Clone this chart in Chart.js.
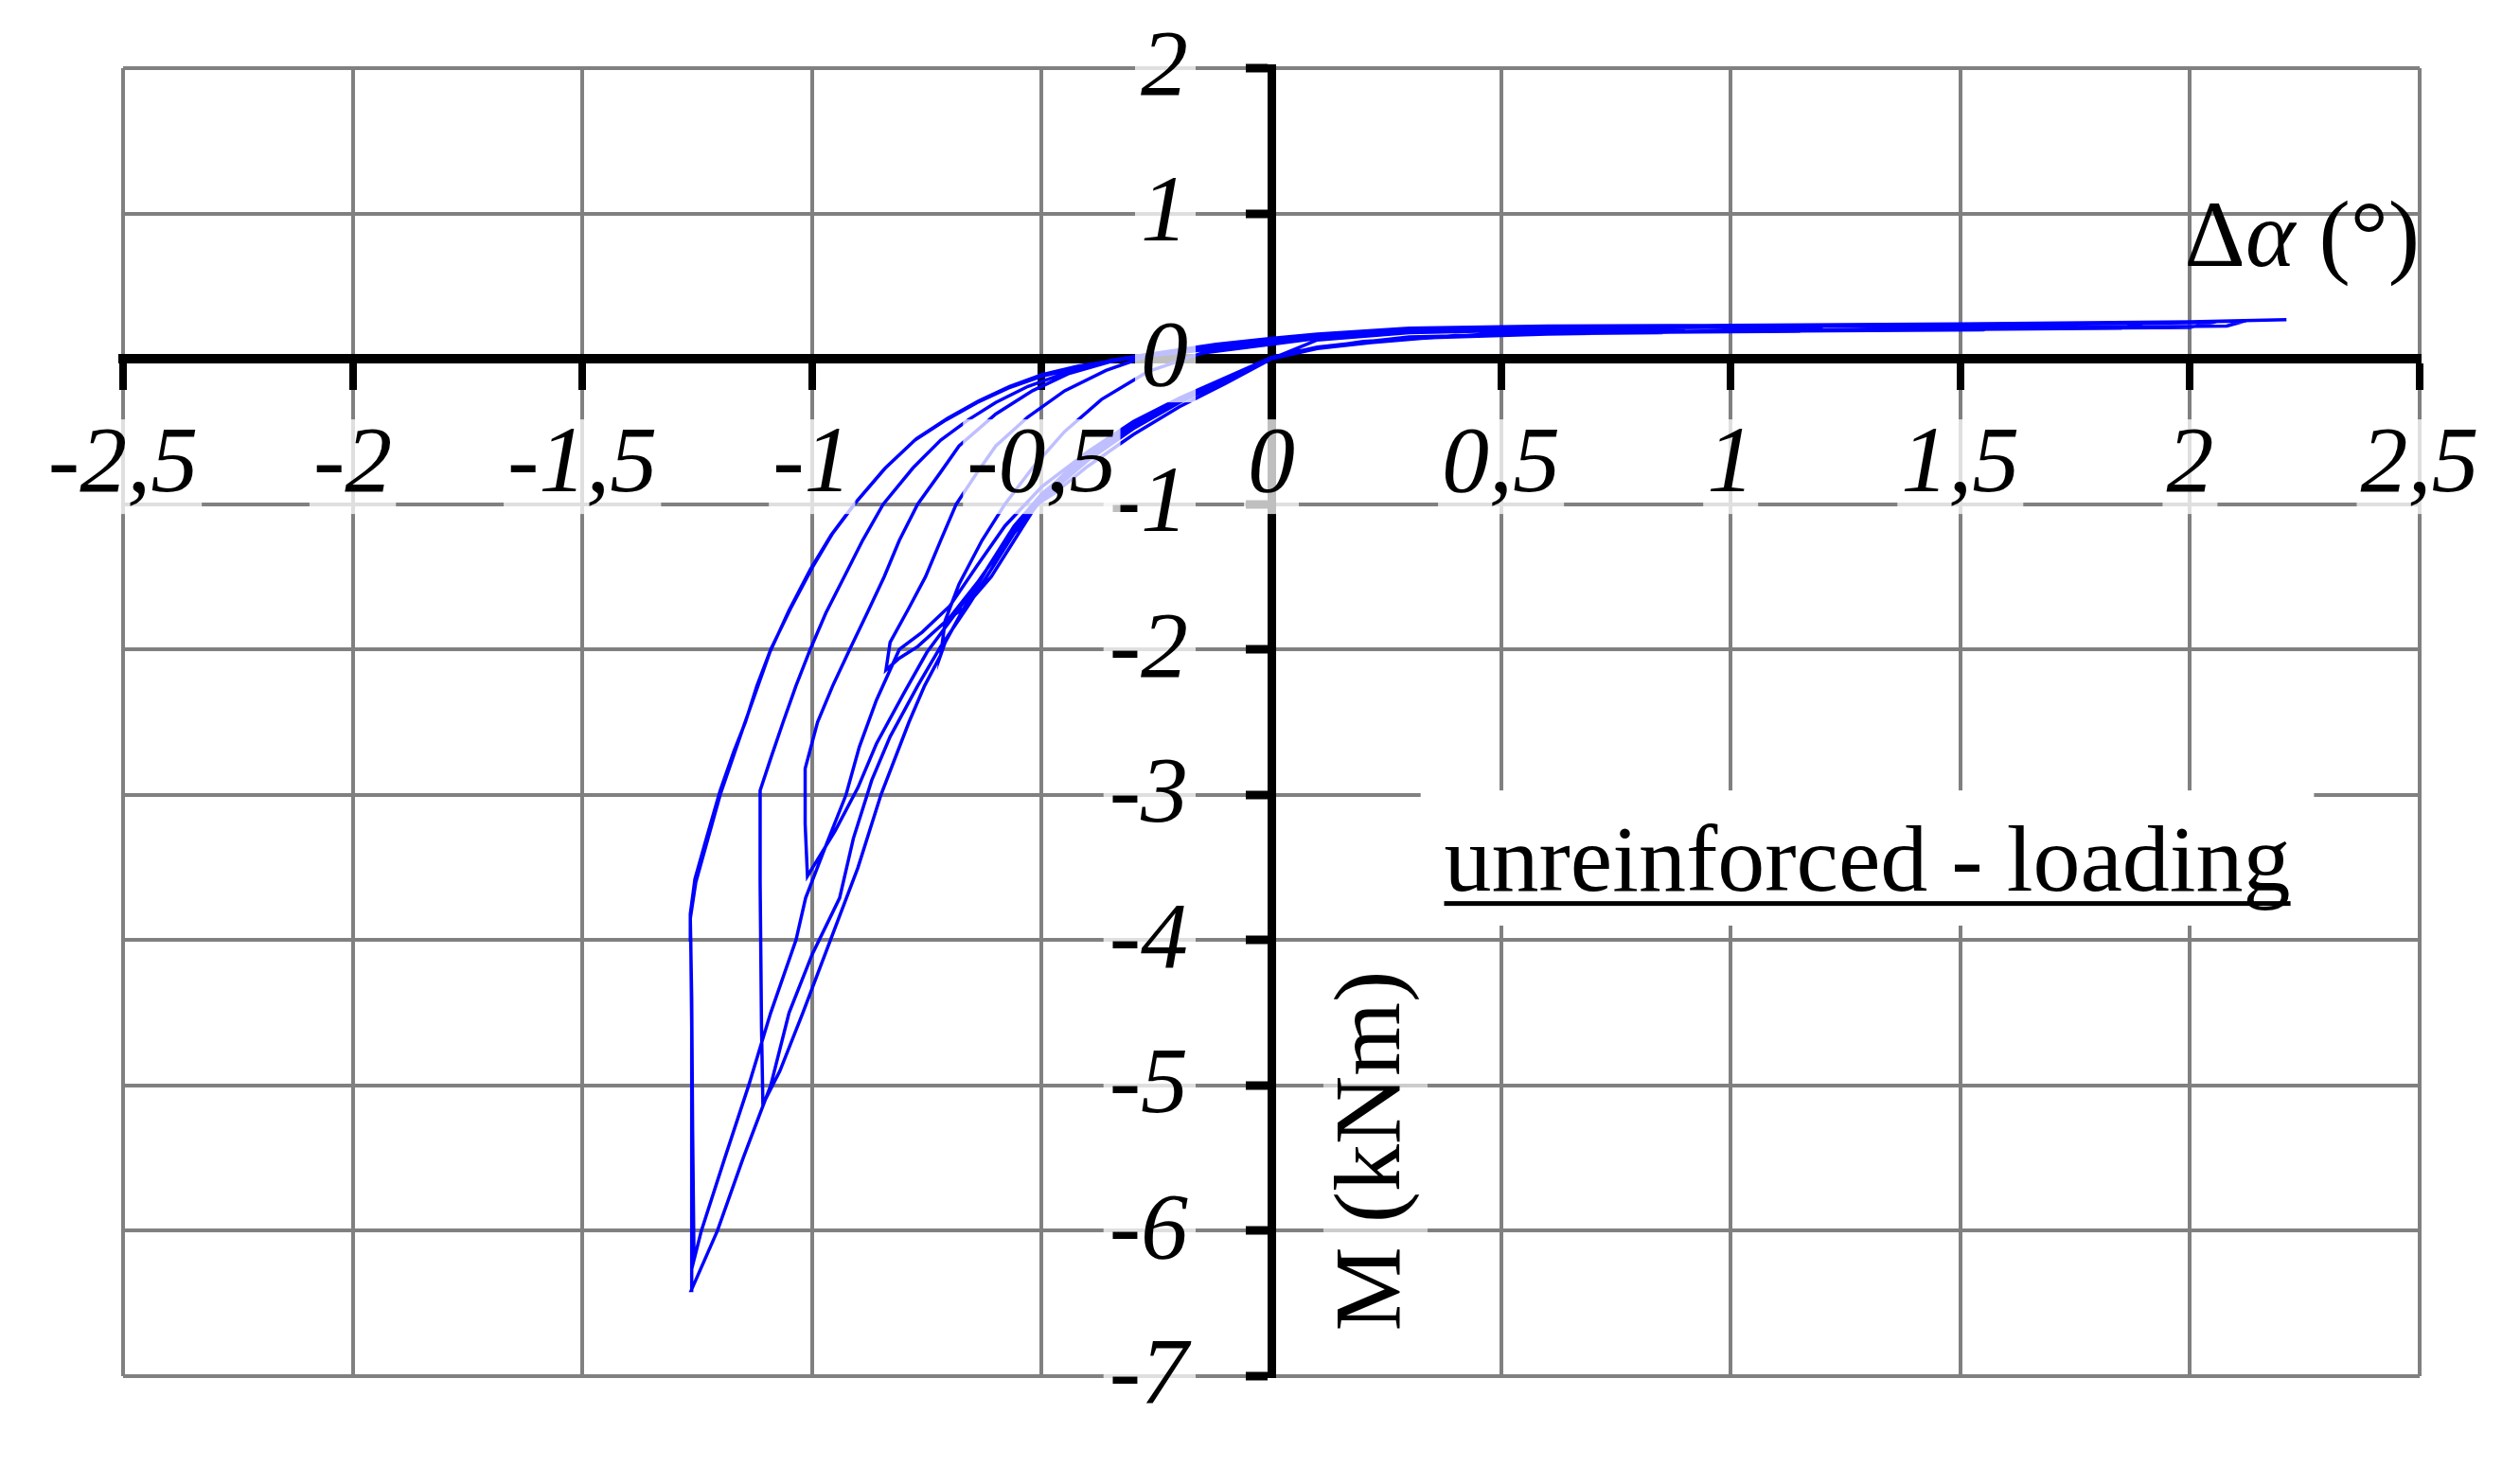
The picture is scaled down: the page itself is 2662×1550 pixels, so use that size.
<!DOCTYPE html>
<html>
<head>
<meta charset="utf-8">
<script src="https://cdn.jsdelivr.net/npm/chart.js@4.4.1/dist/chart.umd.min.js"></script>
<style>
  html, body { margin: 0; padding: 0; background: #ffffff; }
  #wrap { width: 2662px; height: 1550px; }
</style>
</head>
<body>
<div id="wrap"><canvas id="c" width="2662" height="1550"></canvas></div>
<script>
// ---- axis ticks ----
const xTickStep = 0.5;
const yTickStep = 1;
const xRange = [-2.5, 2.5];
const yRange = [-7, 2];

// ---- texts ----
const xTitleParts = [["Δ", "normal"], ["α", "italic"], [" (°)", "normal"]];
const yTitle = "M (kNm)";
const boxLabel = "unreinforced - loading";

// ---- cycle 1 (peak about -0.72 / -2.04) ----
const cycle1Rot = [0, 0.1, 0.3, 0.6, 0.9, 0.85, 0.5, 0.25, 0.1, 0,
  -0.1, -0.2, -0.3, -0.4, -0.48, -0.55, -0.62, -0.67, -0.71, -0.72,
  -0.71, -0.68, -0.63, -0.58, -0.52, -0.45, -0.37, -0.27, -0.15, 0];
const cycle1M = [0, 0.13, 0.18, 0.2, 0.21, 0.18, 0.17, 0.13, 0.07, 0.01,
  -0.13, -0.27, -0.43, -0.64, -0.88, -1.15, -1.45, -1.72, -1.95, -2.04,
  -1.8, -1.55, -1.25, -1.0, -0.75, -0.5, -0.28, -0.09, 0.04, 0.1];

// ---- cycle 2 (peak about -0.84 / -2.14) ----
const cycle2Rot = [0.1, 0.3, 0.7, 1.2, 1.15, 0.7, 0.3, 0.1, 0,
  -0.1, -0.2, -0.3, -0.4, -0.5, -0.57, -0.63, -0.7, -0.77, -0.81, -0.839,
  -0.83, -0.79, -0.753, -0.72, -0.686, -0.64, -0.6, -0.53, -0.45, -0.36, -0.27, -0.12, 0];
const cycle2M = [0.14, 0.19, 0.21, 0.22, 0.19, 0.18, 0.14, 0.07, 0.0,
  -0.15, -0.3, -0.47, -0.68, -0.95, -1.2, -1.5, -1.78, -1.98, -2.06, -2.14,
  -1.95, -1.72, -1.5, -1.25, -1.0, -0.78, -0.6, -0.4, -0.22, -0.08, 0.02, 0.08, 0.12];

// ---- cycle 3 (peak about -1.01 / -3.56) ----
const cycle3Rot = [0.1, 0.3, 0.8, 1.6, 1.55, 0.8, 0.3, 0.1, 0,
  -0.1, -0.2, -0.3, -0.4, -0.5, -0.56, -0.62, -0.68, -0.75, -0.8, -0.86, -0.9, -0.95, -1.01,
  -1.015, -1.015, -0.988, -0.955, -0.918, -0.88, -0.843, -0.81, -0.77, -0.72, -0.68, -0.6, -0.52, -0.44, -0.35, -0.27, -0.12, 0];
const cycle3M = [0.15, 0.2, 0.22, 0.235, 0.2, 0.185, 0.15, 0.08, 0.01,
  -0.14, -0.28, -0.45, -0.66, -0.93, -1.15, -1.45, -1.72, -2.02, -2.3, -2.65, -2.95, -3.25, -3.56,
  -3.2, -2.82, -2.5, -2.25, -2.0, -1.75, -1.5, -1.25, -1.0, -0.78, -0.6, -0.38, -0.22, -0.1, -0.02, 0.03, 0.09, 0.12];

// ---- cycle 4 (peak about -1.107 / -5.13) ----
const cycle4Rot = [0.1, 0.3, 0.8, 1.5, 1.9, 1.85, 1.0, 0.4, 0.1, 0,
  -0.1, -0.2, -0.3, -0.4, -0.47, -0.51, -0.56, -0.61, -0.67, -0.71, -0.72, -0.755, -0.789, -0.85, -0.9, -0.96, -1.02, -1.07, -1.107,
  -1.11, -1.113, -1.113, -1.09, -1.063, -1.035, -1.004, -0.97, -0.93, -0.89, -0.845, -0.78, -0.72, -0.66, -0.6, -0.53, -0.45, -0.35, -0.27, -0.12, 0];
const cycle4M = [0.15, 0.2, 0.22, 0.23, 0.245, 0.21, 0.19, 0.16, 0.08, 0.0,
  -0.17, -0.33, -0.52, -0.74, -0.92, -1.0, -1.25, -1.5, -1.72, -1.8, -2.04, -2.25, -2.5, -3.0, -3.5, -4.0, -4.5, -4.9, -5.13,
  -4.6, -3.6, -2.97, -2.75, -2.5, -2.25, -2.0, -1.75, -1.5, -1.25, -1.0, -0.75, -0.56, -0.42, -0.3, -0.19, -0.1, -0.01, 0.03, 0.09, 0.13];

// ---- cycle 5 (peak about -1.263 / -6.41) ----
const cycle5Rot = [0.1, 0.3, 1.0, 1.6, 2.05, 2.0, 1.2, 0.5, 0.2, 0.05, 0,
  -0.1, -0.2, -0.3, -0.4, -0.5, -0.56, -0.61, -0.66, -0.72, -0.77, -0.83, -0.87, -0.91, -0.94, -1.0, -1.05, -1.09, -1.15, -1.206, -1.263,
  -1.262, -1.262, -1.264, -1.265, -1.255, -1.23, -1.2, -1.17, -1.145, -1.12, -1.09, -1.047, -1.0, -0.955, -0.905, -0.84, -0.773, -0.705, -0.637, -0.57, -0.5, -0.42, -0.34, -0.27, -0.18, -0.1, 0];
const cycle5M = [0.16, 0.205, 0.225, 0.235, 0.25, 0.215, 0.2, 0.17, 0.12, 0.05, 0.0,
  -0.15, -0.3, -0.48, -0.7, -0.97, -1.2, -1.45, -1.7, -1.98, -2.25, -2.6, -2.9, -3.3, -3.71, -4.1, -4.5, -5.0, -5.5, -6.0, -6.41,
  -5.5, -4.6, -4.0, -3.82, -3.58, -3.3, -2.97, -2.7, -2.5, -2.25, -2.0, -1.72, -1.44, -1.2, -0.99, -0.75, -0.55, -0.41, -0.29, -0.19, -0.11, -0.05, -0.01, 0.02, 0.05, 0.08, 0.11];

// ---- cycle 6 (peak about -1.257 / -6.2) ----
const cycle6Rot = [0.1, 0.3, 1.0, 1.7, 2.12, 2.08, 1.3, 0.5, 0.2, 0.05, 0,
  -0.1, -0.2, -0.3, -0.4, -0.5, -0.58, -0.64, -0.7, -0.76, -0.81, -0.86, -0.897, -0.926, -0.97, -1.014, -1.035, -1.09, -1.138, -1.19, -1.241, -1.257,
  -1.26, -1.262, -1.265, -1.253, -1.2, -1.148, -1.092, -1.05, -1.004, -0.958, -0.908, -0.843, -0.776, -0.708, -0.64, -0.572, -0.5, -0.42, -0.27, -0.12, 0];
const cycle6M = [0.16, 0.21, 0.23, 0.24, 0.26, 0.225, 0.205, 0.175, 0.12, 0.05, 0.01,
  -0.13, -0.27, -0.44, -0.64, -0.88, -1.15, -1.42, -1.7, -1.88, -2.0, -2.35, -2.67, -3.0, -3.35, -3.71, -4.0, -4.5, -5.0, -5.5, -6.0, -6.2,
  -5.3, -4.4, -3.85, -3.6, -3.0, -2.52, -2.02, -1.73, -1.45, -1.21, -1.0, -0.76, -0.56, -0.42, -0.3, -0.2, -0.12, -0.06, 0.03, 0.1, 0.14];

// ---- final excursion to positive rotation ----
const finalRot = [0.1, 0.3, 0.6, 1.0, 1.5, 2.0, 2.21];
const finalM = [0.17, 0.21, 0.225, 0.23, 0.24, 0.255, 0.27];

const segments = [
  [cycle1Rot, cycle1M], [cycle2Rot, cycle2M], [cycle3Rot, cycle3M],
  [cycle4Rot, cycle4M], [cycle5Rot, cycle5M], [cycle6Rot, cycle6M],
  [finalRot, finalM]
];
const points = [];
segments.forEach(([r, m]) => r.forEach((v, i) => points.push({ x: v, y: m[i] })));

const tickFont = { family: 'Liberation Serif', style: 'italic', size: 100, lineHeight: 1 };
const gridColor = (ctx) => (ctx.tick && ctx.tick.value === 0) ? 'rgba(0,0,0,0)' : '#808080';
const fmt = (v) => String(Math.round(v * 10) / 10).replace('.', ',');

// y tick labels: drawn left of the axis, over the data, with a light backdrop
const yLabelPlugin = {
  id: 'yLabels',
  afterDatasetsDraw(chart) {
    const ctx = chart.ctx;
    const xs = chart.scales.x, ys = chart.scales.y;
    const right = xs.getPixelForValue(0) - 88;
    ctx.save();
    ctx.font = 'italic 100px "Liberation Serif"';
    ctx.textAlign = 'right';
    ctx.textBaseline = 'middle';
    ys.ticks.forEach((t) => {
      const label = fmt(t.value);
      const py = ys.getPixelForValue(t.value);
      const w = ctx.measureText(label).width;
      ctx.fillStyle = 'rgba(255,255,255,0.75)';
      ctx.fillRect(right - w - 6, py - 46, w + 14, 92);
      ctx.fillStyle = '#000';
      ctx.fillText(label, right, py + 2);
    });
    ctx.restore();
  }
};

const textPlugin = {
  id: 'textPlugin',
  afterDraw(chart) {
    const ctx = chart.ctx;
    const xs = chart.scales.x, ys = chart.scales.y;
    const area = chart.chartArea;
    ctx.save();
    ctx.fillStyle = '#000';
    ctx.textBaseline = 'alphabetic';

    // x axis title, right aligned at the chart's right edge
    const widths = xTitleParts.map(([t, st]) => {
      ctx.font = (st === 'italic' ? 'italic ' : '') + '100px "Liberation Serif"';
      return ctx.measureText(t).width;
    });
    const total = widths.reduce((a, b) => a + b, 0);
    let cx = area.right - total;
    const tBase = ys.getPixelForValue(0.64);
    xTitleParts.forEach(([t, st], i) => {
      ctx.font = (st === 'italic' ? 'italic ' : '') + '100px "Liberation Serif"';
      ctx.textAlign = 'left';
      ctx.fillText(t, cx, tBase);
      cx += widths[i];
    });

    // y axis title, rotated
    const x0 = xs.getPixelForValue(0);
    ctx.fillStyle = 'rgba(255,255,255,0.6)';
    ctx.fillRect(x0 + 55, ys.getPixelForValue(-4.2), 110, ys.getPixelForValue(-6.75) - ys.getPixelForValue(-4.2));
    ctx.fillStyle = '#000';
    ctx.save();
    ctx.translate(x0 + 135, ys.getPixelForValue(-5.45));
    ctx.rotate(-Math.PI / 2);
    ctx.font = '100px "Liberation Serif"';
    ctx.textAlign = 'center';
    ctx.fillText(yTitle, 0, 0);
    ctx.restore();

    // annotation box
    const bx1 = xs.getPixelForValue(0.325), bx2 = xs.getPixelForValue(2.27);
    const by1 = ys.getPixelForValue(-2.97), by2 = ys.getPixelForValue(-3.9);
    ctx.fillStyle = '#ffffff';
    ctx.fillRect(bx1, by1, bx2 - bx1, by2 - by1);
    ctx.fillStyle = '#000';
    ctx.font = '100px "Liberation Serif"';
    ctx.textAlign = 'center';
    const tcx = (bx1 + bx2) / 2;
    const base = ys.getPixelForValue(-3.66);
    ctx.fillText(boxLabel, tcx, base);
    const w = ctx.measureText(boxLabel).width;
    ctx.fillRect(tcx - w / 2, base + 11, w, 5);
    ctx.restore();
  }
};

new Chart(document.getElementById('c'), {
  type: 'scatter',
  data: {
    datasets: [{
      data: points,
      showLine: true,
      borderColor: '#0000ff',
      backgroundColor: '#0000ff',
      borderWidth: 3.5,
      pointRadius: 0,
      tension: 0,
      fill: false
    }]
  },
  options: {
    responsive: false,
    animation: false,
    devicePixelRatio: 1,
    layout: { autoPadding: false, padding: { left: 130, top: 72, right: 106, bottom: 96 } },
    plugins: { legend: { display: false }, tooltip: { enabled: false }, title: { display: false } },
    scales: {
      x: {
        type: 'linear', min: xRange[0], max: xRange[1],
        position: { y: 0 },
        afterFit: (s) => { s.height = 0; s.paddingLeft = 0; s.paddingRight = 0; },
        ticks: {
          stepSize: xTickStep, autoSkip: false, maxRotation: 0, minRotation: 0,
          callback: (v) => fmt(v),
          font: tickFont, color: '#000', padding: 36, z: 1,
          showLabelBackdrop: true, backdropColor: 'rgba(255,255,255,0.75)',
          backdropPadding: { top: 0, bottom: 0, left: 4, right: 4 }
        },
        grid: { color: gridColor, lineWidth: 4, drawTicks: true, tickLength: 28, tickColor: '#000', tickWidth: 8 },
        border: { display: true, color: '#000', width: 10 }
      },
      y: {
        type: 'linear', min: yRange[0], max: yRange[1],
        position: { x: 0 },
        afterFit: (s) => { s.width = 0; s.paddingTop = 0; s.paddingBottom = 0; },
        ticks: { stepSize: yTickStep, display: false },
        grid: { color: gridColor, lineWidth: 4, drawTicks: true, tickLength: 23, tickColor: '#000', tickWidth: 9 },
        border: { display: true, color: '#000', width: 9 }
      }
    }
  },
  plugins: [yLabelPlugin, textPlugin]
});
</script>
</body>
</html>
